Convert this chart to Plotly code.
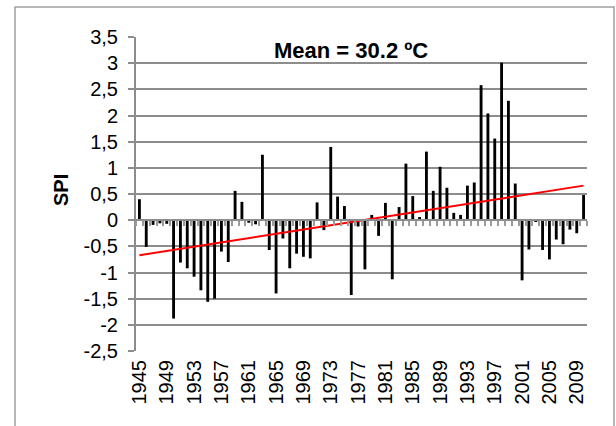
import plotly.graph_objects as go

years = list(range(1945, 2011))
spi = [0.40, -0.51, -0.09, -0.06, -0.07, -1.88, -0.81, -0.92, -1.08, -1.34,
       -1.56, -1.50, -0.60, -0.80, 0.56, 0.35, -0.05, -0.08, 1.25, -0.57,
       -1.40, -0.35, -0.92, -0.64, -0.70, -0.73, 0.34, -0.19, 1.40, 0.45,
       0.27, -1.43, -0.12, -0.94, 0.10, -0.30, 0.33, -1.13, 0.25, 1.08,
       0.46, 0.06, 1.31, 0.56, 1.02, 0.62, 0.14, 0.10, 0.66, 0.72,
       2.58, 2.04, 1.56, 3.01, 2.28, 0.70, -1.15, -0.56, -0.02, -0.57,
       -0.75, -0.37, -0.46, -0.18, -0.25, 0.48]
trend_years = [1945, 2010]
trend_vals = [-0.67, 0.66]
xtick_years = list(range(1945, 2011, 4))
ytick_vals = [-2.5, -2, -1.5, -1, -0.5, 0, 0.5, 1, 1.5, 2, 2.5, 3, 3.5]
ytick_text = ["-2,5", "-2", "-1,5", "-1", "-0,5", "0", "0,5", "1", "1,5", "2", "2,5", "3", "3,5"]
title_text = "Mean = 30.2 ºC"
ylabel = "SPI"

FONT = "Arial, Liberation Sans, sans-serif"
W, H = 616, 426
L, R, T, B = 136, 29, 37, 75
pw, ph = W - L - R, H - T - B

def px(xp):
    return (xp - L) / pw

def py(yp):
    return (H - B - yp) / ph

fig = go.Figure()
fig.add_trace(go.Bar(x=years, y=spi, width=0.42, marker=dict(color="black", line=dict(width=0)),
                     showlegend=False))
fig.add_trace(go.Scatter(x=trend_years, y=trend_vals, mode="lines",
                         line=dict(color="#ff0000", width=2), showlegend=False))
# zero-line axis with category tick marks
fig.add_trace(go.Scatter(x=[years[0]], y=[0], xaxis="x2", mode="markers",
                         marker=dict(opacity=0), showlegend=False, hoverinfo="skip"))

fig.update_layout(
    width=W, height=H,
    margin=dict(l=L, r=R, t=T, b=B, pad=0),
    paper_bgcolor="white", plot_bgcolor="white",
    font=dict(family=FONT, color="black", size=20),
    xaxis=dict(range=[1944.5, 2010.5], tickmode="array", tickvals=xtick_years,
               ticktext=[str(y) for y in xtick_years], tickangle=-90,
               showgrid=False, zeroline=False, showline=False, ticks="",
               tickfont=dict(size=20, family=FONT), ticklabelstandoff=4),
    xaxis2=dict(range=[1944.5, 2010.5], overlaying="x", anchor="free", position=2.5 / 6,
                tickmode="array", tickvals=[1944.5 + k for k in range(67)],
                showticklabels=False, ticks="outside", ticklen=5, tickwidth=1.5,
                tickcolor="#9a9a9a", showline=True, linecolor="#8c8c8c", linewidth=2,
                showgrid=False, zeroline=False),
    yaxis=dict(range=[-2.5, 3.5], tickmode="array", tickvals=ytick_vals, ticktext=ytick_text,
               showgrid=True, gridcolor="#8c8c8c", gridwidth=2, zeroline=False,
               showline=True, linecolor="#8c8c8c", linewidth=2, ticks="outside",
               ticklen=6, tickwidth=2, tickcolor="#8c8c8c",
               tickfont=dict(size=20, family=FONT), ticklabelstandoff=6),
    shapes=[dict(type="rect", xref="paper", yref="paper",
                 x0=px(15), x1=px(614), y0=py(445), y1=py(7),
                 line=dict(color="#a0a0a0", width=1.5), fillcolor="rgba(0,0,0,0)", layer="below")],
    annotations=[
        dict(text="<b>" + title_text + "</b>", xref="paper", yref="paper", x=px(351), y=py(50),
             xanchor="center", yanchor="middle", showarrow=False,
             font=dict(size=22, family=FONT, color="black")),
        dict(text="<b>" + ylabel + "</b>", xref="paper", yref="paper", x=px(61), y=py(190),
             xanchor="center", yanchor="middle", textangle=-90, showarrow=False,
             font=dict(size=20, family=FONT, color="black")),
    ],
)

fig.write_html("out.html")
